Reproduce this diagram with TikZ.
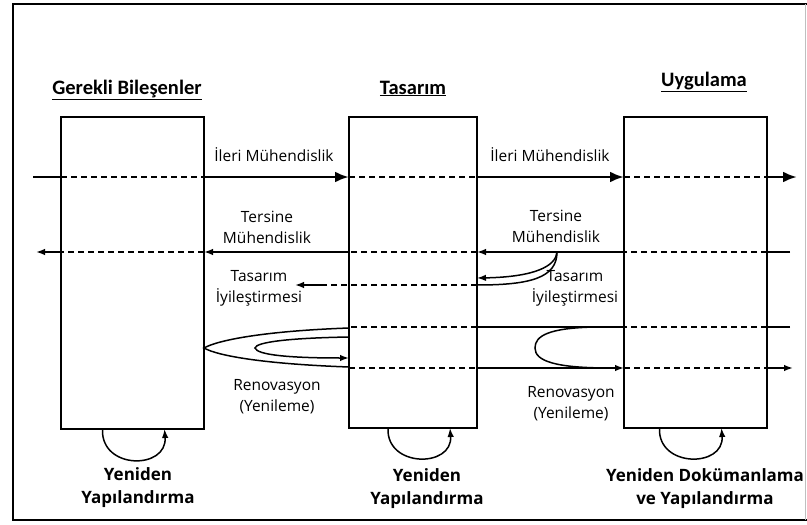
\documentclass[tikz,border=0pt]{standalone}
\usepackage{fontspec}
\setmainfont{Open Sans}
\newfontfamily\titlefont{Carlito}
\usetikzlibrary{arrows.meta}
\begin{document}
\begin{tikzpicture}[x=1pt,y=-1pt,
  box/.style={draw, line width=1.6pt, inner sep=0pt, outer sep=0pt},
  dline/.style={line width=1.6pt, dash pattern=on 6pt off 4pt},
  sline/.style={line width=1.5pt},
  thk/.style={line width=2.8pt},
  fwd/.style={line width=2.8pt, -{Latex[length=14pt,width=11pt]}},
  bk/.style={line width=1.5pt, -{Latex[length=9pt,width=6.5pt]}},
  lbl/.style={font=\fontsize{15.5}{21}\selectfont, align=center, inner sep=0pt},
  ttl/.style={font=\titlefont\bfseries\fontsize{20.5}{22}\selectfont, inner sep=0pt, anchor=base},
  btm/.style={font=\bfseries\fontsize{17}{23}\selectfont, align=center, inner sep=0pt},
]
\useasboundingbox (0,0) rectangle (807,525);
% frame
\draw[line width=2.6pt] (807,4) -- (13,4) -- (13,520) -- (807,520);
\draw[black!25, line width=0.6pt] (805,4) -- (805,520);

% boxes
\node[box, minimum width=143pt, minimum height=312pt] (b1) at (132.5,273) {};
\node[box, minimum width=128pt, minimum height=311pt] (b2) at (413,272.5) {};
\node[box, minimum width=143pt, minimum height=311pt] (b3) at (695.5,272.5) {};

% titles
\node[ttl] (t1) at (127,94) {\underline{Gerekli Bileşenler}};
\node[ttl] (t2) at (413,94) {\underline{Tasarım}};
\node[ttl] (t3) at (704,86) {\underline{Uygulama}};

% level coordinates
\coordinate (yF) at (0,177);
\coordinate (yR) at (0,252);
\coordinate (yD) at (0,285);
\coordinate (yDa) at (0,278);
\coordinate (yU) at (0,327);
\coordinate (yL) at (0,368);

% forward engineering
\coordinate (fS) at (33,177);
\coordinate (fE) at (797,177);
\draw[thk] (fS) -- (b1.west|-yF);
\draw[dline] (b1.west|-yF) -- (b1.east|-yF);
\draw[fwd] (b1.east|-yF) -- (b2.west|-yF);
\draw[dline] (b2.west|-yF) -- (b2.east|-yF);
\draw[fwd] (b2.east|-yF) -- (b3.west|-yF);
\draw[dline] (b3.west|-yF) -- (b3.east|-yF);
\draw[fwd] (b3.east|-yF) -- (fE);

% reverse engineering
\coordinate (rS) at (790,252);
\coordinate (rE) at (36,252);
\draw[sline] (rS) -- (b3.east|-yR);
\draw[dline] (b3.east|-yR) -- (b3.west|-yR);
\draw[bk] (b3.west|-yR) -- (b2.east|-yR);
\draw[dline] (b2.east|-yR) -- (b2.west|-yR);
\draw[bk] (b2.west|-yR) -- (b1.east|-yR);
\draw[dline] (b1.east|-yR) -- (b1.west|-yR);
\draw[bk] (b1.west|-yR) -- (rE);

% design improvement
\coordinate (dM) at (322,285);
\coordinate (dE) at (295,285);
\coordinate (dC) at (557,252);
\draw[dline] (b2.east|-yD) -- (b2.west|-yD) -- (dM);
\draw[bk] (dM) -- (dE);
\draw[sline] (dC) .. controls (557,278) and (530,285) .. (b2.east|-yD);
\draw[bk] (dC) .. controls (556,266) and (535,277) .. (b2.east|-yDa);

% renovation
\coordinate (uS) at (790,327);
\coordinate (lE) at (793,368);
\draw[sline] (uS) -- (b3.east|-yU);
\draw[dline] (b3.east|-yU) -- (b3.west|-yU);
\draw[sline] (b3.west|-yU) -- (b2.east|-yU);
\draw[dline] (b2.east|-yU) -- (b2.west|-yU);
\draw[dline] (b2.west|-yL) -- (b2.east|-yL);
\draw[bk] (b2.east|-yL) -- (b3.west|-yL);
\draw[dline] (b3.west|-yL) -- (b3.east|-yL);
\draw[bk] (b3.east|-yL) -- (lE);
% right loop
\coordinate (rl1) at (595,327);
\coordinate (rl2) at (610,368);
\coordinate (rlt) at (535,348);
\draw[sline] (rl1) .. controls (548,328) and (535,336) .. (rlt) .. controls (535,361) and (555,368) .. (rl2);
% left loops
\coordinate (lo1) at (349,328);
\coordinate (lo2) at (349,367);
\coordinate (lot) at (204,348);
\coordinate (li1) at (349,337);
\coordinate (li2) at (349,358);
\coordinate (lit) at (255,348);
\draw[sline] (lo1) .. controls (265,331) and (218,340) .. (lot) .. controls (218,356) and (265,364) .. (lo2);
\draw[bk] (li1) .. controls (290,338) and (256,342) .. (lit) .. controls (257,355) and (290,358) .. (li2);

% restructuring loops
\draw[bk] ([xshift=-30pt]b1.south) .. controls ([xshift=-32pt,yshift=-41pt]b1.south) and ([xshift=35pt,yshift=-41pt]b1.south) .. ([xshift=32pt]b1.south);
\draw[bk] ([xshift=-25pt]b2.south) .. controls ([xshift=-27pt,yshift=-40pt]b2.south) and ([xshift=40pt,yshift=-40pt]b2.south) .. ([xshift=37pt]b2.south);
\draw[bk] ([xshift=-36pt]b3.south) .. controls ([xshift=-38pt,yshift=-40pt]b3.south) and ([xshift=29pt,yshift=-40pt]b3.south) .. ([xshift=26pt]b3.south);

% labels
\node[lbl] (l1) at (274,155) {İleri Mühendislik};
\node[lbl] (l2) at (550,155) {İleri Mühendislik};
\node[lbl] (l3) at (267,227) {Tersine\\Mühendislik};
\node[lbl] (l4) at (556,226) {Tersine\\Mühendislik};
\node[lbl] (l5) at (259,288) {Tasarım\\İyileştirmesi};
\node[lbl] (l6) at (575,288) {Tasarım\\İyileştirmesi};
\node[lbl] (l7) at (277,397) {Renovasyon\\(Yenileme)};
\node[lbl] (l8) at (571,404) {Renovasyon\\(Yenileme)};

\node[btm] (n1) at (138,488) {Yeniden\\Yapılandırma};
\node[btm] (n2) at (427,489) {Yeniden\\Yapılandırma};
\node[btm] (n3) at (705,489) {Yeniden Dokümanlama\\ve Yapılandırma};
\end{tikzpicture}
\end{document}
